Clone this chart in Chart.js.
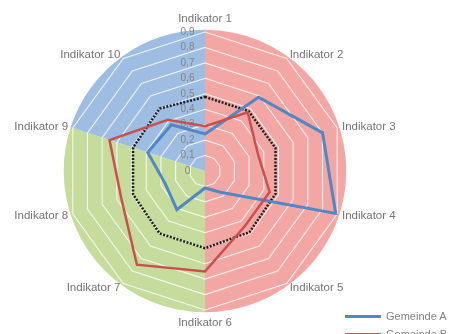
<!DOCTYPE html>
<html>
<head>
<meta charset="utf-8">
<script src="https://cdn.jsdelivr.net/npm/chart.js@4/dist/chart.umd.min.js"></script>
<style>
  html, body { margin: 0; padding: 0; background: #fff; overflow: hidden; width: 451px; height: 334px; }
  #wrap { position: relative; width: 451px; height: 334px; }
  #legend { position: absolute; left: 345px; top: 307px; font-family: "Liberation Sans", Arial, sans-serif; font-size: 11px; color: #808080; }
  #legend .row { display: flex; align-items: center; height: 18px; white-space: nowrap; }
  #legend .sw { display: inline-block; width: 36px; height: 0; margin-right: 5px; }
</style>
</head>
<body>
<div id="wrap">
  <canvas id="c" width="451" height="334"></canvas>
  <div id="legend"></div>
</div>
<script>
// ---- data ----
const categories = ["Indikator 1","Indikator 2","Indikator 3","Indikator 4","Indikator 5",
                    "Indikator 6","Indikator 7","Indikator 8","Indikator 9","Indikator 10"];
const seriesNames = ["Gemeinde A", "Gemeinde B", "Durchschnitt"];
const gemeindeA    = [0.24, 0.59, 0.80, 0.89, 0.17, 0.11, 0.31, 0.27, 0.39, 0.37];
const gemeindeB    = [0.29, 0.47, 0.36, 0.44, 0.44, 0.65, 0.75, 0.57, 0.65, 0.41];
const durchschnitt = [0.48, 0.48, 0.48, 0.48, 0.49, 0.50, 0.50, 0.49, 0.49, 0.50];
const tickValues   = [0, 0.1, 0.2, 0.3, 0.4, 0.5, 0.6, 0.7, 0.8, 0.9];
// background sectors: how many indicator steps each coloured sector spans (clockwise from Indikator 1)
const sectorSpans  = [5, 3, 2];
const sectorColors = ["#F3A7A5", "#C6DC9C", "#9EBDE2"];
const sectorExtent = 0.915;   // value reached by the coloured disc

const bgPlugin = {
  id: 'sectors',
  beforeDraw(chart) {
    const s = chart.scales.r;
    const ctx = chart.ctx;
    const r = s.getDistanceFromCenterForValue(sectorExtent);
    const step = 2 * Math.PI / categories.length;
    let idx = 0;
    ctx.save();
    sectorSpans.forEach((span, i) => {
      const a0 = s.getIndexAngle(0) - Math.PI / 2 + idx * step;
      const a1 = a0 + span * step;
      ctx.beginPath();
      ctx.moveTo(s.xCenter, s.yCenter);
      ctx.arc(s.xCenter, s.yCenter, r, a0, a1);
      ctx.closePath();
      ctx.fillStyle = sectorColors[i];
      ctx.fill();
      idx += span;
    });
    ctx.restore();
  }
};

// category labels centred on their axis direction (Excel style)
const labelPlugin = {
  id: 'axisLabels',
  afterDraw(chart) {
    const s = chart.scales.r;
    const ctx = chart.ctx;
    ctx.save();
    ctx.font = '11.5px "Liberation Sans", Arial, sans-serif';
    ctx.fillStyle = '#737373';
    ctx.textBaseline = 'middle';
    categories.forEach((lab, i) => {
      const a = s.getIndexAngle(i);
      const sx = Math.sin(a);
      const vertical = Math.abs(sx) < 0.01;
      const p = s.getPointPosition(i, s.drawingArea + (vertical ? 13 : 5));
      ctx.textAlign = vertical ? 'center' : (sx > 0 ? 'left' : 'right');
      ctx.fillText(lab, p.x, p.y);
    });
    ctx.restore();
  }
};

const fmt = v => (v === 0 ? "0" : v.toFixed(1).replace('.', ','));

const chart = new Chart(document.getElementById('c'), {
  type: 'radar',
  data: {
    labels: categories,
    datasets: [
      { label: seriesNames[1], data: gemeindeB, borderColor: '#C9504C', borderWidth: 2.5, fill: false },
      { label: seriesNames[0], data: gemeindeA, borderColor: '#5287C6', borderWidth: 3, fill: false },
      { label: seriesNames[2], data: durchschnitt, borderColor: '#1e1e1e', borderWidth: 2.5, borderDash: [2, 1.5], fill: false }
    ]
  },
  options: {
    responsive: false,
    animation: false,
    layout: { padding: { left: 0, right: 41, top: 25, bottom: 17 } },
    elements: { point: { radius: 0 }, line: { tension: 0 } },
    plugins: { legend: { display: false }, tooltip: { enabled: false } },
    scales: {
      r: {
        min: 0, max: 0.9,
        // the centre tick is never labelled by Chart.js, so a duplicate 0 carries the "0" label
        afterBuildTicks(scale) { scale.ticks = [{ value: 0 }].concat(tickValues.map(v => ({ value: v }))); },
        angleLines: { display: false },
        grid: { color: 'rgba(255,255,255,0.8)', lineWidth: 1.1, circular: false },
        ticks: {
          showLabelBackdrop: false,
          color: '#858585',
          font: { family: 'Liberation Sans', size: 10 },
          callback: v => fmt(v) + '\u2003\u2003\u2003\u2002'
        },
        pointLabels: { display: false }
      }
    }
  },
  plugins: [bgPlugin, labelPlugin]
});

// HTML legend built from the datasets (Gemeinde A first, as in the reference)
const legend = document.getElementById('legend');
[1, 0, 2].forEach(i => {
  const ds = chart.data.datasets[i];
  const row = document.createElement('div');
  row.className = 'row';
  const sw = document.createElement('span');
  sw.className = 'sw';
  sw.style.borderTop = `${ds.borderWidth}px ${ds.borderDash ? 'dotted' : 'solid'} ${ds.borderColor}`;
  row.appendChild(sw);
  row.appendChild(document.createTextNode(ds.label));
  legend.appendChild(row);
});
</script>
</body>
</html>
